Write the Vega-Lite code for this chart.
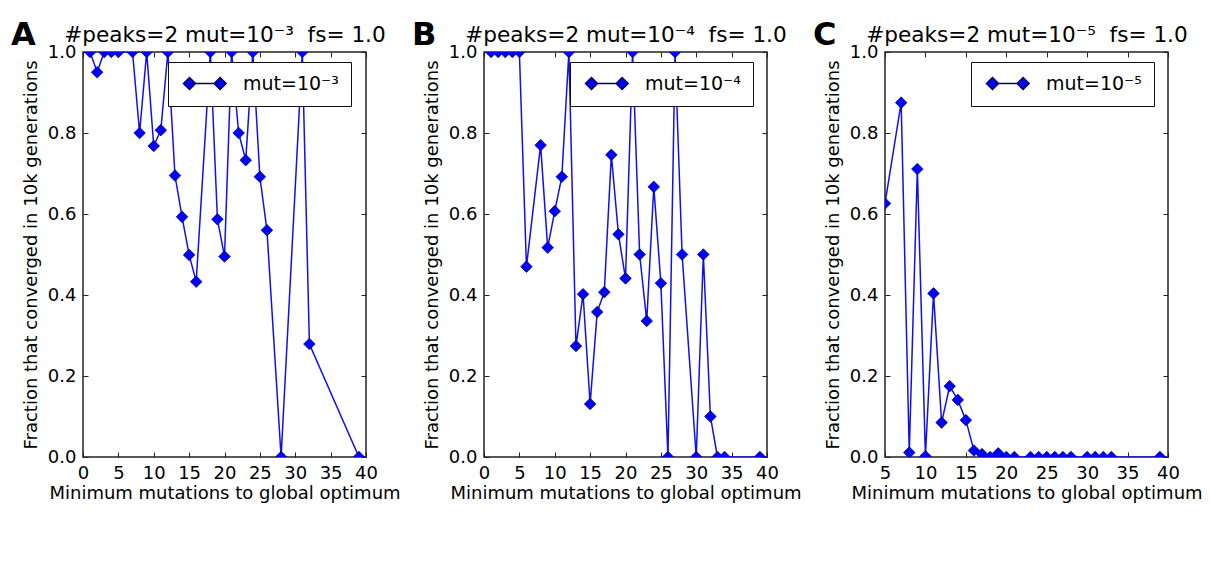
{
  "$schema": "https://vega.github.io/schema/vega-lite/v6.json",
  "background": "white",
  "padding": {"left": 10, "top": 17, "right": 5, "bottom": 5},
  "spacing": 118,
  "bounds": "flush",
  "config": {
    "font": "DejaVu Sans",
    "view": {"stroke": "#222", "strokeWidth": 1.5},
    "axis": {"labelFontSize": 18, "titleFontSize": 18, "labelColor": "black", "titleColor": "black", "titleFontWeight": "normal", "tickColor": "#222", "tickSize": -5, "tickWidth": 1, "domain": false, "grid": false, "labelPadding": 12, "labelFlush": false, "labelOverlap": false},
    "legend": {"labelFontSize": 19, "labelColor": "black"}
  },
  "resolve": {"scale": {"x": "independent", "color": "independent"}, "legend": {"color": "independent"}},
  "hconcat": [
    {
      "width": 283, "height": 405,
      "title": {"text": "A", "anchor": "start", "frame": "group", "dx": -72, "offset": -27, "fontSize": 32, "fontWeight": "bold", "color": "black"},
      "data": {"values": [
        {"m": 1, "f": 1, "s": "mut=10⁻³"}, {"m": 2, "f": 0.95, "s": "mut=10⁻³"}, {"m": 3, "f": 1, "s": "mut=10⁻³"}, {"m": 4, "f": 1, "s": "mut=10⁻³"}, {"m": 5, "f": 1, "s": "mut=10⁻³"}, {"m": 7, "f": 1, "s": "mut=10⁻³"}, {"m": 8, "f": 0.8, "s": "mut=10⁻³"}, {"m": 9, "f": 1, "s": "mut=10⁻³"}, {"m": 10, "f": 0.768, "s": "mut=10⁻³"}, {"m": 11, "f": 0.807, "s": "mut=10⁻³"}, {"m": 12, "f": 1, "s": "mut=10⁻³"}, {"m": 13, "f": 0.695, "s": "mut=10⁻³"}, {"m": 14, "f": 0.593, "s": "mut=10⁻³"}, {"m": 15, "f": 0.499, "s": "mut=10⁻³"}, {"m": 16, "f": 0.433, "s": "mut=10⁻³"}, {"m": 18, "f": 1, "s": "mut=10⁻³"}, {"m": 19, "f": 0.587, "s": "mut=10⁻³"}, {"m": 20, "f": 0.495, "s": "mut=10⁻³"}, {"m": 21, "f": 1, "s": "mut=10⁻³"}, {"m": 22, "f": 0.8, "s": "mut=10⁻³"}, {"m": 23, "f": 0.733, "s": "mut=10⁻³"}, {"m": 24, "f": 1, "s": "mut=10⁻³"}, {"m": 25, "f": 0.692, "s": "mut=10⁻³"}, {"m": 26, "f": 0.56, "s": "mut=10⁻³"}, {"m": 28, "f": 0, "s": "mut=10⁻³"}, {"m": 31, "f": 1, "s": "mut=10⁻³"}, {"m": 32, "f": 0.279, "s": "mut=10⁻³"}, {"m": 39, "f": 0, "s": "mut=10⁻³"}
      ]},
      "layer": [
        {
          "mark": {"type": "line", "color": "#1010ee", "strokeWidth": 1.5, "clip": true},
          "encoding": {
            "x": {"field": "m", "type": "quantitative", "scale": {"domain": [0, 40], "nice": false, "zero": false}, "axis": {"orient": "bottom", "values": [0, 5, 10, 15, 20, 25, 30, 35, 40], "title": "Minimum mutations to global optimum", "titlePadding": 2}},
            "y": {"field": "f", "type": "quantitative", "scale": {"domain": [0, 1], "nice": false}, "axis": {"orient": "left", "values": [0, 0.2, 0.4, 0.6, 0.8, 1], "format": ".1f", "title": "Fraction that converged in 10k generations", "titlePadding": 7}}
          }
        },
        {
          "mark": {"type": "point", "shape": "diamond", "filled": true, "size": 135, "stroke": "#000066", "strokeWidth": 0.7, "opacity": 1, "clip": true},
          "encoding": {
            "x": {"field": "m", "type": "quantitative", "axis": {"orient": "top", "values": [0, 5, 10, 15, 20, 25, 30, 35, 40], "labels": false, "title": "#peaks=2 mut=10⁻³\u00a0 fs= 1.0", "titleFontSize": 21.6, "titlePadding": 5}},
            "y": {"field": "f", "type": "quantitative", "axis": {"orient": "right", "values": [0, 0.2, 0.4, 0.6, 0.8, 1], "labels": false, "title": null}},
            "color": {"field": "s", "type": "nominal", "scale": {"range": ["#0000ff"]}, "legend": {"orient": "none", "legendX": 85, "legendY": 10, "title": null, "padding": 12, "strokeColor": "#111", "fillColor": "white", "symbolSize": 144, "symbolType": "M-1,0L0,-1L1,0L0,1Z M0,0L5.1,0 M4.1,0L5.1,-1L6.1,0L5.1,1Z", "labelOffset": 44, "encode": {"symbols": {"update": {"fill": {"value": "#0000ff"}, "stroke": {"value": "#0000cc"}, "strokeWidth": {"value": 1.5}}}}}}
          }
        }
      ],
      "resolve": {"axis": {"x": "independent", "y": "independent"}}
    },
    {
      "width": 283, "height": 405,
      "title": {"text": "B", "anchor": "start", "frame": "group", "dx": -72, "offset": -27, "fontSize": 32, "fontWeight": "bold", "color": "black"},
      "data": {"values": [
        {"m": 1, "f": 1, "s": "mut=10⁻⁴"}, {"m": 2, "f": 1, "s": "mut=10⁻⁴"}, {"m": 3, "f": 1, "s": "mut=10⁻⁴"}, {"m": 4, "f": 1, "s": "mut=10⁻⁴"}, {"m": 5, "f": 1, "s": "mut=10⁻⁴"}, {"m": 6, "f": 0.47, "s": "mut=10⁻⁴"}, {"m": 8, "f": 0.77, "s": "mut=10⁻⁴"}, {"m": 9, "f": 0.517, "s": "mut=10⁻⁴"}, {"m": 10, "f": 0.607, "s": "mut=10⁻⁴"}, {"m": 11, "f": 0.692, "s": "mut=10⁻⁴"}, {"m": 12, "f": 1, "s": "mut=10⁻⁴"}, {"m": 13, "f": 0.274, "s": "mut=10⁻⁴"}, {"m": 14, "f": 0.402, "s": "mut=10⁻⁴"}, {"m": 15, "f": 0.131, "s": "mut=10⁻⁴"}, {"m": 16, "f": 0.358, "s": "mut=10⁻⁴"}, {"m": 17, "f": 0.407, "s": "mut=10⁻⁴"}, {"m": 18, "f": 0.746, "s": "mut=10⁻⁴"}, {"m": 19, "f": 0.55, "s": "mut=10⁻⁴"}, {"m": 20, "f": 0.441, "s": "mut=10⁻⁴"}, {"m": 21, "f": 1, "s": "mut=10⁻⁴"}, {"m": 22, "f": 0.5, "s": "mut=10⁻⁴"}, {"m": 23, "f": 0.336, "s": "mut=10⁻⁴"}, {"m": 24, "f": 0.667, "s": "mut=10⁻⁴"}, {"m": 25, "f": 0.429, "s": "mut=10⁻⁴"}, {"m": 26, "f": 0, "s": "mut=10⁻⁴"}, {"m": 27, "f": 1, "s": "mut=10⁻⁴"}, {"m": 28, "f": 0.5, "s": "mut=10⁻⁴"}, {"m": 30, "f": 0, "s": "mut=10⁻⁴"}, {"m": 31, "f": 0.5, "s": "mut=10⁻⁴"}, {"m": 32, "f": 0.1, "s": "mut=10⁻⁴"}, {"m": 33, "f": 0, "s": "mut=10⁻⁴"}, {"m": 34, "f": 0, "s": "mut=10⁻⁴"}, {"m": 39, "f": 0, "s": "mut=10⁻⁴"}
      ]},
      "layer": [
        {
          "mark": {"type": "line", "color": "#1010ee", "strokeWidth": 1.5, "clip": true},
          "encoding": {
            "x": {"field": "m", "type": "quantitative", "scale": {"domain": [0, 40], "nice": false, "zero": false}, "axis": {"orient": "bottom", "values": [0, 5, 10, 15, 20, 25, 30, 35, 40], "title": "Minimum mutations to global optimum", "titlePadding": 2}},
            "y": {"field": "f", "type": "quantitative", "scale": {"domain": [0, 1], "nice": false}, "axis": {"orient": "left", "values": [0, 0.2, 0.4, 0.6, 0.8, 1], "format": ".1f", "title": "Fraction that converged in 10k generations", "titlePadding": 7}}
          }
        },
        {
          "mark": {"type": "point", "shape": "diamond", "filled": true, "size": 135, "stroke": "#000066", "strokeWidth": 0.7, "opacity": 1, "clip": true},
          "encoding": {
            "x": {"field": "m", "type": "quantitative", "axis": {"orient": "top", "values": [0, 5, 10, 15, 20, 25, 30, 35, 40], "labels": false, "title": "#peaks=2 mut=10⁻⁴\u00a0 fs= 1.0", "titleFontSize": 21.6, "titlePadding": 5}},
            "y": {"field": "f", "type": "quantitative", "axis": {"orient": "right", "values": [0, 0.2, 0.4, 0.6, 0.8, 1], "labels": false, "title": null}},
            "color": {"field": "s", "type": "nominal", "scale": {"range": ["#0000ff"]}, "legend": {"orient": "none", "legendX": 86, "legendY": 10, "title": null, "padding": 12, "strokeColor": "#111", "fillColor": "white", "symbolSize": 144, "symbolType": "M-1,0L0,-1L1,0L0,1Z M0,0L5.1,0 M4.1,0L5.1,-1L6.1,0L5.1,1Z", "labelOffset": 44, "encode": {"symbols": {"update": {"fill": {"value": "#0000ff"}, "stroke": {"value": "#0000cc"}, "strokeWidth": {"value": 1.5}}}}}}
          }
        }
      ],
      "resolve": {"axis": {"x": "independent", "y": "independent"}}
    },
    {
      "width": 283, "height": 405,
      "title": {"text": "C", "anchor": "start", "frame": "group", "dx": -72, "offset": -27, "fontSize": 32, "fontWeight": "bold", "color": "black"},
      "data": {"values": [
        {"m": 5, "f": 0.626, "s": "mut=10⁻⁵"}, {"m": 7, "f": 0.875, "s": "mut=10⁻⁵"}, {"m": 8, "f": 0.011, "s": "mut=10⁻⁵"}, {"m": 9, "f": 0.711, "s": "mut=10⁻⁵"}, {"m": 10, "f": 0.002, "s": "mut=10⁻⁵"}, {"m": 11, "f": 0.404, "s": "mut=10⁻⁵"}, {"m": 12, "f": 0.085, "s": "mut=10⁻⁵"}, {"m": 13, "f": 0.175, "s": "mut=10⁻⁵"}, {"m": 14, "f": 0.141, "s": "mut=10⁻⁵"}, {"m": 15, "f": 0.091, "s": "mut=10⁻⁵"}, {"m": 16, "f": 0.016, "s": "mut=10⁻⁵"}, {"m": 17, "f": 0.007, "s": "mut=10⁻⁵"}, {"m": 18, "f": 0, "s": "mut=10⁻⁵"}, {"m": 19, "f": 0.009, "s": "mut=10⁻⁵"}, {"m": 20, "f": 0, "s": "mut=10⁻⁵"}, {"m": 21, "f": 0, "s": "mut=10⁻⁵"}, {"m": 23, "f": 0, "s": "mut=10⁻⁵"}, {"m": 24, "f": 0, "s": "mut=10⁻⁵"}, {"m": 25, "f": 0, "s": "mut=10⁻⁵"}, {"m": 26, "f": 0, "s": "mut=10⁻⁵"}, {"m": 27, "f": 0, "s": "mut=10⁻⁵"}, {"m": 28, "f": 0, "s": "mut=10⁻⁵"}, {"m": 30, "f": 0, "s": "mut=10⁻⁵"}, {"m": 31, "f": 0, "s": "mut=10⁻⁵"}, {"m": 32, "f": 0, "s": "mut=10⁻⁵"}, {"m": 33, "f": 0, "s": "mut=10⁻⁵"}, {"m": 39, "f": 0, "s": "mut=10⁻⁵"}
      ]},
      "layer": [
        {
          "mark": {"type": "line", "color": "#1010ee", "strokeWidth": 1.5, "clip": true},
          "encoding": {
            "x": {"field": "m", "type": "quantitative", "scale": {"domain": [5, 40], "nice": false, "zero": false}, "axis": {"orient": "bottom", "values": [5, 10, 15, 20, 25, 30, 35, 40], "title": "Minimum mutations to global optimum", "titlePadding": 2}},
            "y": {"field": "f", "type": "quantitative", "scale": {"domain": [0, 1], "nice": false}, "axis": {"orient": "left", "values": [0, 0.2, 0.4, 0.6, 0.8, 1], "format": ".1f", "title": "Fraction that converged in 10k generations", "titlePadding": 7}}
          }
        },
        {
          "mark": {"type": "point", "shape": "diamond", "filled": true, "size": 135, "stroke": "#000066", "strokeWidth": 0.7, "opacity": 1, "clip": true},
          "encoding": {
            "x": {"field": "m", "type": "quantitative", "axis": {"orient": "top", "values": [5, 10, 15, 20, 25, 30, 35, 40], "labels": false, "title": "#peaks=2 mut=10⁻⁵\u00a0 fs= 1.0", "titleFontSize": 21.6, "titlePadding": 5}},
            "y": {"field": "f", "type": "quantitative", "axis": {"orient": "right", "values": [0, 0.2, 0.4, 0.6, 0.8, 1], "labels": false, "title": null}},
            "color": {"field": "s", "type": "nominal", "scale": {"range": ["#0000ff"]}, "legend": {"orient": "none", "legendX": 86, "legendY": 10, "title": null, "padding": 12, "strokeColor": "#111", "fillColor": "white", "symbolSize": 144, "symbolType": "M-1,0L0,-1L1,0L0,1Z M0,0L5.1,0 M4.1,0L5.1,-1L6.1,0L5.1,1Z", "labelOffset": 44, "encode": {"symbols": {"update": {"fill": {"value": "#0000ff"}, "stroke": {"value": "#0000cc"}, "strokeWidth": {"value": 1.5}}}}}}
          }
        }
      ],
      "resolve": {"axis": {"x": "independent", "y": "independent"}}
    }
  ]
}
